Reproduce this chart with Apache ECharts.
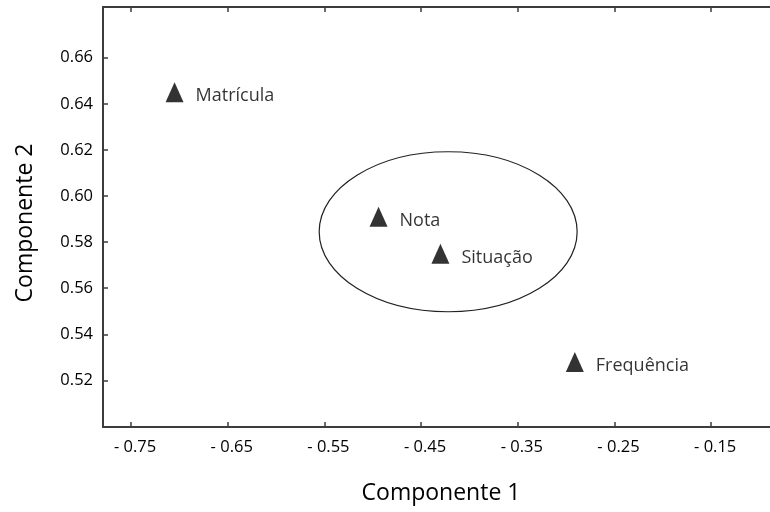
<!DOCTYPE html>
<html>
<head>
<meta charset="utf-8">
<script src="https://cdn.jsdelivr.net/npm/echarts@6/dist/echarts.min.js"></script>
<style>html,body{margin:0;padding:0;background:#fff}#c{width:770px;height:512px}</style>
</head>
<body>
<div id="c"></div>
<script>
const xTicks = [-0.75, -0.65, -0.55, -0.45, -0.35, -0.25, -0.15];
const yTicks = [0.52, 0.54, 0.56, 0.58, 0.60, 0.62, 0.64, 0.66];
const variables = ['Matrícula', 'Nota', 'Situação', 'Frequência'];
const componente1 = [-0.705, -0.494, -0.430, -0.291];
const componente2 = [0.645, 0.591, 0.575, 0.528];
const ellipseCenter = [-0.422, 0.5845];
const ellipseRadius = [0.1334, 0.0347];

const FONT = '"Open Sans", "Noto Sans", sans-serif';
const TXT = '#000000';
const AX = '#3c3c3c';

const chart = echarts.init(document.getElementById('c'), null, {renderer: 'canvas'});
const points = variables.map((n, i) => ({name: n, value: [componente1[i], componente2[i]]}));

chart.setOption({
  animation: false,
  backgroundColor: '#fff',
  grid: {left: 103, top: 7, width: 700, height: 420, containLabel: false, outerBoundsMode: 'none'},
  xAxis: [{
    type: 'value', min: -0.779, max: -0.055, position: 'bottom',
    name: 'Componente 1', nameLocation: 'middle', nameGap: 55,
    nameTextStyle: {fontFamily: FONT, fontSize: 23, color: TXT, padding: [0, 24, 0, 0]},
    axisLine: {show: true, onZero: false, lineStyle: {color: AX, width: 2}},
    axisTick: {show: true, inside: true, length: 5, customValues: xTicks, lineStyle: {color: AX, width: 1.5}},
    axisLabel: {customValues: xTicks, margin: 12, fontFamily: FONT, fontSize: 16.5, color: TXT,
      padding: [0, 0, 0, 8],
      formatter: v => '- ' + Math.abs(v).toFixed(2)},
    splitLine: {show: false}
  }, {
    type: 'value', min: -0.779, max: -0.055, position: 'top',
    axisLine: {show: true, onZero: false, lineStyle: {color: AX, width: 2}},
    axisTick: {show: true, inside: true, length: 5, customValues: xTicks, lineStyle: {color: AX, width: 1.5}},
    axisLabel: {show: false},
    splitLine: {show: false}
  }],
  yAxis: [{
    type: 'value', min: 0.4998, max: 0.682, position: 'left',
    name: 'Componente 2', nameLocation: 'middle', nameGap: 66,
    nameTextStyle: {fontFamily: FONT, fontSize: 23, color: TXT, padding: [0, 12, 0, 0]},
    axisLine: {show: true, onZero: false, lineStyle: {color: AX, width: 2}},
    axisTick: {show: true, inside: true, length: 5, customValues: yTicks, lineStyle: {color: AX, width: 1.5}},
    axisLabel: {customValues: yTicks, margin: 10, fontFamily: FONT, fontSize: 16.5, color: TXT,
      formatter: v => v.toFixed(2)},
    splitLine: {show: false}
  }],
  series: [{
    type: 'custom',
    xAxisIndex: 0, yAxisIndex: 0,
    data: [[ellipseCenter[0], ellipseCenter[1], ellipseRadius[0], ellipseRadius[1]]],
    renderItem: function (params, api) {
      const c = api.coord([api.value(0), api.value(1)]);
      const s = api.size([api.value(2), api.value(3)]);
      return {type: 'ellipse', shape: {cx: c[0], cy: c[1], rx: s[0], ry: s[1]},
        style: {fill: 'none', stroke: '#222', lineWidth: 1.2}};
    },
    silent: true
  }, {
    type: 'scatter',
    xAxisIndex: 0, yAxisIndex: 0,
    symbol: 'triangle', symbolSize: [18, 20],
    itemStyle: {color: '#000'},
    label: {show: true, position: 'right', distance: 12, offset: [0, 4],
      formatter: p => p.name, fontFamily: FONT, fontSize: 18, color: TXT},
    data: points
  }]
});
</script>
</body>
</html>
